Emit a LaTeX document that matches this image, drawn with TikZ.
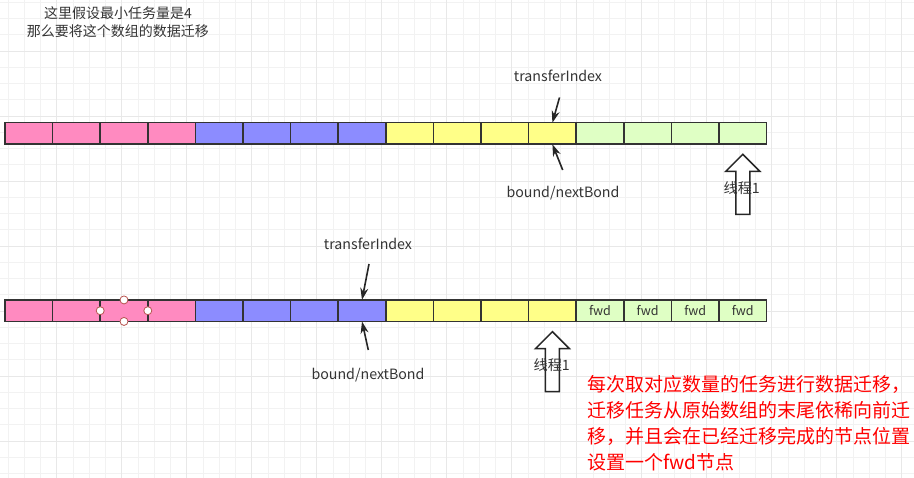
\documentclass[tikz,border=0pt]{standalone}
\usepackage{xcolor}
\usepackage{fontspec}
\setmainfont{Noto Sans CJK SC}
\usepackage{tikz}
\usetikzlibrary{arrows.meta,positioning,calc}

\definecolor{cpink}{HTML}{FF8AC0}
\definecolor{cblue}{HTML}{8C8CFF}
\definecolor{cyellow}{HTML}{FFFF88}
\definecolor{cgreen}{HTML}{DFFFC4}
\definecolor{ctext}{HTML}{333333}
\definecolor{chandle}{HTML}{B85450}

\tikzset{
	gridminor/.style={line width=0.8pt, color=black!5},
	gridmajor/.style={line width=0.9pt, color=black!9},
	cell/.style={draw=black!80, line width=1.5pt, minimum width=47.6pt, minimum height=21.5pt, inner sep=0pt, outer sep=0pt, font=\fontsize{12.5}{14}\selectfont, text=ctext},
	ptr/.style={-{Stealth[length=12pt,width=8pt]}, line width=1.6pt, color=black!85},
	thread/.style={draw=black!85, fill=white, line width=1.5pt, line join=miter},
	lbl/.style={font=\fontsize{14.2}{16}\selectfont, text=ctext, inner sep=0pt},
	handle/.style={circle, draw=chandle, fill=white, line width=0.8pt, minimum size=8pt, inner sep=0pt}
}

\begin{document}
\begin{tikzpicture}[x=1pt,y=-1pt]
		\path[use as bounding box] (0,0) rectangle (914,478);

		% background grid
		\begin{scope}
			\clip (0,0) rectangle (914,478);
			\foreach \i in {0,...,57} {\draw[gridminor] ({-8.3+16.25*\i},0) -- ({-8.3+16.25*\i},478);}
			\foreach \j in {0,...,30} {\draw[gridminor] (0,{-14+16.25*\j}) -- (914,{-14+16.25*\j});}
			\foreach \i in {0,...,14} {\draw[gridmajor] ({-8.3+65*\i},0) -- ({-8.3+65*\i},478);}
			\foreach \j in {0,...,8} {\draw[gridmajor] (0,{-14+65*\j}) -- (914,{-14+65*\j});}
		\end{scope}

		\node[font=\fontsize{14}{18}\selectfont, text=ctext, align=center] (note) at (118,22) {这里假设最小任务量是4\\那么要将这个数组的数据迁移};

		% first array
		\foreach \i/\c in {0/cpink,1/cpink,2/cpink,3/cpink,4/cblue,5/cblue,6/cblue,7/cblue,8/cyellow,9/cyellow,10/cyellow,11/cyellow,12/cgreen,13/cgreen,14/cgreen,15/cgreen}
			\node[cell, fill=\c] (a\i) at ({28.8+47.6*\i},133.5) {};

		\node[lbl] (tiA) at (558,76) {transferIndex};
		\coordinate (tiAs) at (559.5,97.5);
		\draw[ptr] (tiAs) -- (a11.north);
		\coordinate (bnAs) at (562.7,170);
		\draw[ptr] (bnAs) -- (a11.south);
		\node[lbl] (bnA) at (563,193) {bound/nextBond};

		\coordinate (t1) at (a15.south |- 0,154.3);
		\draw[thread] (t1) -- ++(17,17) -- ++(-10,0) -- ++(0,43) -- ++(-14,0) -- ++(0,-43) -- ++(-10,0) -- cycle;
		\node[lbl] (t1l) at (741.7,188.3) {线程1};

		% second array
		\foreach \i/\c in {0/cpink,1/cpink,2/cpink,3/cpink,4/cblue,5/cblue,6/cblue,7/cblue,8/cyellow,9/cyellow,10/cyellow,11/cyellow}
			\node[cell, fill=\c] (b\i) at ({28.8+47.6*\i},310.7) {};
		\foreach \i in {12,...,15}
			\node[cell, fill=cgreen] (b\i) at ({28.8+47.6*\i},310.7) {fwd};

		\node[handle] (h1) at (b2.north) {};
		\node[handle] (h2) at (b2.south) {};
		\node[handle] (h3) at (b2.west) {};
		\node[handle] (h4) at (b2.east) {};

		\node[lbl] (tiB) at (368,244) {transferIndex};
		\coordinate (tiBs) at (369,264);
		\draw[ptr] (tiBs) -- (b7.north);
		\coordinate (bnBs) at (368.3,350);
		\draw[ptr] (bnBs) -- (b7.south);
		\node[lbl] (bnB) at (368,375) {bound/nextBond};

		\coordinate (t2) at (b11.south |- 0,331.7);
		\draw[thread] (t2) -- ++(17,17) -- ++(-10,0) -- ++(0,43) -- ++(-14,0) -- ++(0,-43) -- ++(-10,0) -- cycle;
		\node[lbl] (t2l) at (551.7,365) {线程1};

		\node[anchor=north west, inner sep=0pt, text=red, align=left, font=\fontsize{19}{26}\selectfont] (desc) at (587,375) {每次取对应数量的任务进行数据迁移，\\迁移任务从原始数组的末尾依稀向前迁\\移，并且会在已经迁移完成的节点位置\\设置一个fwd节点};
	\end{tikzpicture}
\end{document}
